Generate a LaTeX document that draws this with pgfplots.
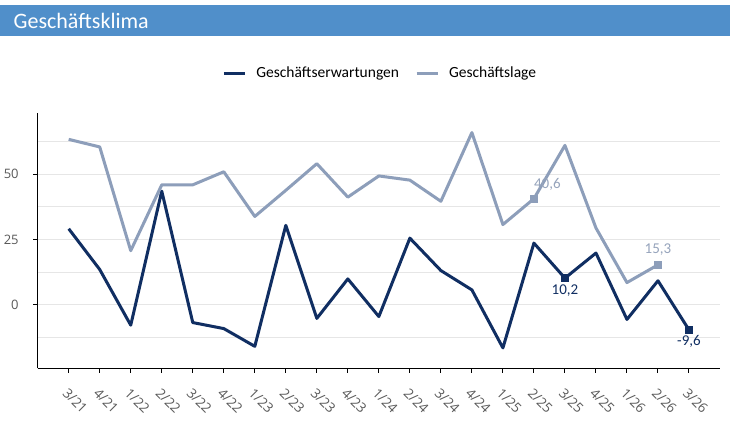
\documentclass[border=0pt]{standalone}
\usepackage{fontspec}
\setmainfont{Carlito}
\newfontfamily\tickfont{Open Sans}
\usepackage{pgfplots}
\pgfplotsset{compat=1.18}
\definecolor{darkline}{RGB}{16,46,98}
\definecolor{lightline}{RGB}{141,158,186}
\definecolor{lightlabel}{RGB}{150,164,188}
\definecolor{titleblue}{RGB}{80,143,202}
\definecolor{ticktext}{RGB}{89,89,89}
\definecolor{gridc}{RGB}{230,230,230}
\begin{document}
\begin{tikzpicture}
\useasboundingbox (0,0) rectangle (730pt,421pt);
\fill[white] (0,0) rectangle (730pt,421pt);
\fill[titleblue] (0,385pt) rectangle (730pt,416pt);
\node[anchor=base west, inner sep=0pt, text=white, font=\fontsize{22}{26}\selectfont] at (13.5pt,392.7pt) {Geschäftsklima};
\begin{axis}[
 at={(37.7pt,52.7pt)}, anchor=south west,
 scale only axis, width=682.3pt, height=255.6pt,
 xmin=-1, xmax=21, ymin=-24.3, ymax=73.5,
 axis x line*=bottom, axis y line*=left,
 axis line style={black, line width=1.3pt},
 xtick={0,...,20},
 xticklabels={3/21,4/21,1/22,2/22,3/22,4/22,1/23,2/23,3/23,4/23,1/24,2/24,3/24,4/24,1/25,2/25,3/25,4/25,1/26,2/26,3/26},
 ytick={0,25,50},
 minor ytick={-12.5,12.5,37.5,62.5},
 ymajorgrids, yminorgrids,
 major grid style={draw=gridc, line width=0.8pt},
 minor grid style={draw=gridc, line width=0.8pt},
 tick align=outside, major tick length=4.5pt, minor tick length=0pt,
 major tick style={black, line width=1pt},
 tick label style={font=\tickfont\fontsize{13}{15}\selectfont, text=ticktext},
 /pgf/number format/assume math mode=true,
 yticklabel style={xshift=-11pt},
 xticklabel style={rotate=-45, anchor=north west, inner sep=1pt, font=\tickfont\fontsize{13.5}{15}\selectfont},
 xticklabel shift=13pt,
 legend style={at={(0.502,1.155)}, anchor=center, draw=none, fill=none,
   font=\fontsize{15.5}{18}\selectfont, /tikz/every even column/.append style={column sep=14pt}},
 legend columns=2,
 legend image code/.code={\draw[#1] (0pt,0pt) -- (21pt,0pt); \path (29pt,0pt);},
 clip=false,
]
\addplot[darkline, line width=3pt, line join=round] coordinates {
(0,29.1) (1,13.5) (2,-7.8) (3,43.5) (4,-6.8) (5,-9.1) (6,-15.9) (7,30.4) (8,-5.2) (9,9.9) (10,-4.5)
(11,25.5) (12,13.1) (13,5.7) (14,-16.5) (15,23.6) (16,10.2) (17,19.8) (18,-5.6) (19,9.2) (20,-9.6)};
\addlegendentry{Geschäftserwartungen}
\addplot[lightline, line width=3pt, line join=round] coordinates {
(0,63.3) (1,60.4) (2,20.7) (3,45.9) (4,45.9) (5,50.9) (6,33.8) (7,43.8) (8,54.0) (9,41.2) (10,49.3)
(11,47.7) (12,39.6) (13,65.9) (14,30.7) (15,40.6) (16,61.0) (17,29.4) (18,8.5) (19,15.3)};
\addlegendentry{Geschäftslage}
\addplot[only marks, mark=square*, mark size=3.5pt, darkline, forget plot] coordinates {(16,10.2) (20,-9.6)};
\addplot[only marks, mark=square*, mark size=3.5pt, lightline, forget plot] coordinates {(15,40.6) (19,15.3)};
\node[anchor=base west, inner sep=0pt, text=lightlabel, font=\fontsize{15}{18}\selectfont, yshift=10.6pt] at (axis cs:15,40.6) {40,6};
\node[anchor=base, inner sep=0pt, text=lightlabel, font=\fontsize{15}{18}\selectfont, yshift=11.4pt] at (axis cs:19,15.3) {15,3};
\node[anchor=base, inner sep=0pt, text=darkline, font=\fontsize{15}{18}\selectfont, yshift=-16pt] at (axis cs:16,10.2) {10,2};
\node[anchor=base, inner sep=0pt, text=darkline, font=\fontsize{15}{18}\selectfont, yshift=-16pt] at (axis cs:20,-9.6) {-9,6};
\end{axis}
\end{tikzpicture}
\end{document}
